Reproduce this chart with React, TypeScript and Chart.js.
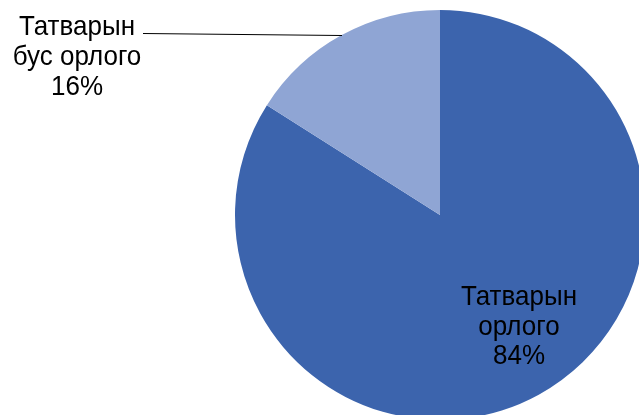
import React, { useEffect, useRef } from "react";
import { Chart, registerables } from "chart.js";

Chart.register(...registerables);

const categories = ["Татварын орлого", "Татварын бус орлого"];
const values = [84, 16];
const colors = ["#3C64AD", "#8FA5D4"];
const insideLabel = ["Татварын", "орлого", "84%"];
const outsideLabel = ["Татварын", "бус орлого", "16%"];

function drawText(ctx: CanvasRenderingContext2D, t: string, x: number, y: number) {
  ctx.save();
  ctx.translate(x, y);
  ctx.scale(1, 1.08);
  ctx.fillText(t, 0, 0);
  ctx.restore();
}

const labelPlugin = {
  id: "labelPlugin",
  afterDraw(chart: any) {
    const ctx = chart.ctx;
    ctx.save();
    ctx.fillStyle = "#000000";
    ctx.font = "26px 'Liberation Sans', Arial, sans-serif";
    ctx.textAlign = "center";
    ctx.textBaseline = "alphabetic";
    insideLabel.forEach((t, i) => drawText(ctx, t, 519, 305 + i * 29.5));
    outsideLabel.forEach((t, i) => drawText(ctx, t, 77, 35 + i * 30));
    ctx.strokeStyle = "#000000";
    ctx.lineWidth = 1;
    ctx.beginPath();
    ctx.moveTo(143, 33.5);
    ctx.lineTo(342, 35.5);
    ctx.stroke();
    ctx.restore();
  },
};

export default function App() {
  const ref = useRef<HTMLCanvasElement>(null);
  useEffect(() => {
    const chart = new Chart(ref.current!, {
      type: "pie",
      data: {
        labels: categories,
        datasets: [
          {
            data: values,
            backgroundColor: colors,
            borderWidth: 0,
          },
        ],
      },
      options: {
        animation: false,
        responsive: false,
        devicePixelRatio: 1,
        layout: { padding: { left: 235, right: 5, top: 10, bottom: 5 } },
        plugins: {
          legend: { display: false },
          tooltip: { enabled: false },
        },
      },
      plugins: [labelPlugin],
    });
    return () => chart.destroy();
  }, []);
  return (
    <div
      style={{
        position: "fixed",
        left: 0,
        top: 0,
        width: 639,
        height: 415,
        overflow: "hidden",
        background: "#ffffff",
      }}
    >
      <canvas ref={ref} width={650} height={425} style={{ display: "block" }} />
    </div>
  );
}
